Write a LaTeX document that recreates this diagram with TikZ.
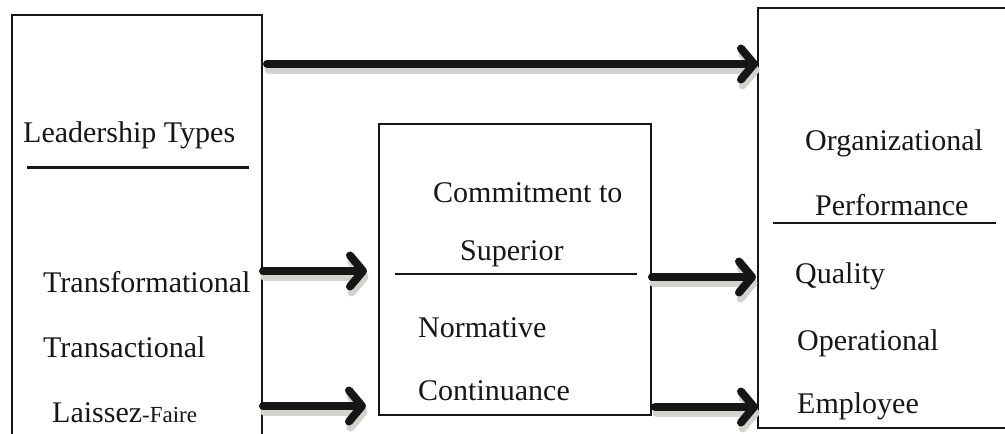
\documentclass[tikz,border=0pt]{standalone}
\usepackage{fontspec}
\setmainfont{Liberation Serif}
\usetikzlibrary{arrows.meta}
\definecolor{shade}{HTML}{D2D2D0}
\definecolor{ink}{HTML}{161616}
\tikzset{
  box/.style={rectangle, inner sep=0pt, outer sep=0pt, anchor=north west},
  frame/.style={draw=ink, line width=2.8pt},
  lbl/.style={inner sep=0pt, anchor=base west, text=ink, font=\fontsize{30}{36}\selectfont},
  rule/.style={draw=ink, line width=3pt},
  flowbase/.style={line width=8pt, line cap=round,
    -{Straight Barb[length=13pt, width=31pt, round]}},
  flow/.style={flowbase, draw=ink},
  flowshade/.style={flowbase, draw=shade}
}
\begin{document}
\begin{tikzpicture}[x=1pt, y=-1pt]
\useasboundingbox (0,0) rectangle (1005,434);

% boxes (the left one runs off the bottom, the right one off the right side)
\node[box, minimum width=250pt, minimum height=419pt] (lead) at (12,15) {};
\node[box, minimum width=272pt, minimum height=291pt] (comm) at (379,124) {};
\node[box, minimum width=247pt, minimum height=420pt] (perf) at (758,8) {};
\draw[frame, line cap=rect] (lead.south west) -- (lead.north west) -- (lead.north east) -- (lead.south east);
\draw[frame] (comm.north west) rectangle (comm.south east);
\draw[frame, line cap=rect] (perf.north east) -- (perf.north west) -- (perf.south west) -- (perf.south east);

% leadership types
\node[lbl] (ltitle) at (23,142) {Leadership Types};
\draw[rule] (27,167) -- (249,167);
\node[lbl] (trf) at (43,292) {Transformational};
\node[lbl] (trs) at (43,357) {Transactional};
\node[lbl] (lf) at (52,422) {Laissez{\fontsize{23}{28}\selectfont-Faire}};

% commitment to superior
\node[lbl] (ct1) at (433,202) {Commitment to};
\node[lbl] (ct2) at (460,260) {Superior};
\draw[rule, line width=2.4pt] (395,274) -- (637,274);
\node[lbl] (nor) at (418,337) {Normative};
\node[lbl] (con) at (418,400) {Continuance};

% organizational performance
\node[lbl] (op1) at (805,150) {Organizational};
\node[lbl] (op2) at (815,215) {Performance};
\draw[rule, line width=2.6pt] (773,223) -- (996,223);
\node[lbl] (qua) at (795,283) {Quality};
\node[lbl] (ope) at (797,350) {Operational};
\node[lbl] (emp) at (797,413) {Employee};

% arrow end points on the box borders
\coordinate (d0) at ([xshift=5pt]lead.east |- 0,64);
\coordinate (d1) at (perf.west |- 0,64);
\coordinate (l1) at ([xshift=1pt]lead.east |- 0,271);
\coordinate (c1) at ([xshift=-12pt]comm.west |- 0,271);
\coordinate (l2) at ([xshift=1pt]lead.east |- 0,406);
\coordinate (c2) at ([xshift=-13pt]comm.west |- 0,406);
\coordinate (c3) at ([xshift=1pt]comm.east |- 0,277);
\coordinate (p3) at ([xshift=-2pt]perf.west |- 0,277);
\coordinate (c4) at ([xshift=4pt]comm.east |- 0,407);
\coordinate (p4) at (perf.west |- 0,407);

% drop shadows of the arrows
\begin{scope}[transform canvas={shift={(1.5,6)}}]
\draw[flowshade] (d0) -- (d1);
\draw[flowshade] (l1) -- (c1);
\draw[flowshade] (l2) -- (c2);
\draw[flowshade] (c3) -- (p3);
\draw[flowshade] (c4) -- (p4);
\end{scope}

% arrows
\draw[flow] (d0) -- (d1);
\draw[flow] (l1) -- (c1);
\draw[flow] (l2) -- (c2);
\draw[flow] (c3) -- (p3);
\draw[flow] (c4) -- (p4);
\end{tikzpicture}
\end{document}
